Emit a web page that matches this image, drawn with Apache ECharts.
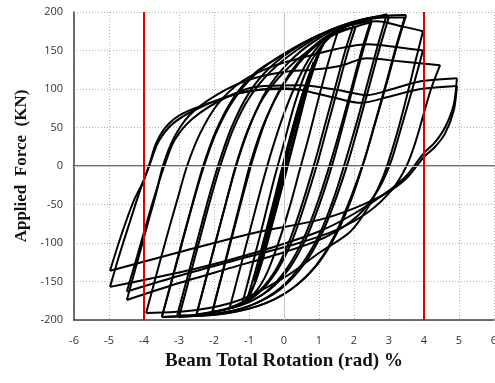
<!DOCTYPE html>
<html>
<head>
<meta charset="utf-8">
<script src="https://cdn.jsdelivr.net/npm/echarts@6/dist/echarts.min.js"></script>
<style>
  html, body { margin: 0; padding: 0; background: #fff; }
  #main { width: 495px; height: 383px; }
</style>
</head>
<body>
<div id="main"></div>
<script>
// x = beam total rotation (%), y = applied force (kN)
var xTicks = [-6, -5, -4, -3, -2, -1, 0, 1, 2, 3, 4, 5, 6]
var yTicks = [-200, -150, -100, -50, 0, 50, 100, 150, 200]
var limitLines = [-4, 4]

// small elastic cycles (dense band through the origin)
var band1 = [[0,0],[0.2,38],[0.4,72],[0.62,105],[0.5,88],[0.28,50],[0.05,8],[-0.2,-38],[-0.4,-75],[-0.62,-112],[-0.5,-92],[-0.27,-48],[-0.05,-8]]
var band2 = [[-0.05,-8],[0.2,38],[0.5,88],[0.85,135],[0.72,117],[0.45,72],[0.15,22],[-0.2,-40],[-0.5,-95],[-0.85,-150],[-0.72,-130],[-0.42,-75],[-0.12,-20]]
var band3 = [[-0.12,-20],[0.2,35],[0.55,92],[0.85,130],[1.08,156],[0.92,140],[0.6,90],[0.25,30],[-0.1,-30],[-0.45,-92],[-0.8,-148],[-1.05,-172],[-0.9,-150],[-0.6,-100],[-0.25,-38]]
var band4 = [[-0.25,-38],[0.1,25],[0.45,82],[0.8,128],[1.2,165],[1.02,148],[0.7,105],[0.4,52],[0.05,-10],[-0.3,-70],[-0.65,-128],[-0.95,-165],[-1.2,-180]]

// growing cycles up to peak strength
var cyc15 = [[-1.2,-180],[-0.9,-128],[-0.6,-75],[-0.3,-20],[0,30],[0.3,80],[0.65,125],[1.0,152],[1.3,167],[1.55,176],
  [1.3,140],[1.0,90],[0.72,40],[0.45,-5],[0.15,-55],[-0.2,-105],[-0.55,-145],[-0.95,-170],[-1.55,-184]]
var cyc20a = [[-1.55,-184],[-1.25,-132],[-0.95,-80],[-0.65,-28],[-0.35,20],[0,68],[0.4,112],[0.8,145],[1.3,170],[2.0,185],
  [1.75,150],[1.45,100],[1.15,50],[0.88,5],[0.55,-45],[0.2,-92],[-0.2,-132],[-0.7,-162],[-1.3,-180],[-2.05,-190]]
var cyc20b = [[-2.05,-190],[-1.78,-142],[-1.5,-92],[-1.22,-42],[-0.95,5],[-0.6,52],[-0.15,95],[0.4,132],[1.0,160],[1.5,174],[2.05,181],
  [1.82,148],[1.52,98],[1.22,48],[0.95,3],[0.62,-46],[0.25,-95],[-0.2,-136],[-0.75,-166],[-1.35,-182],[-2.05,-190]]
var cyc25a = [[-2.05,-190],[-1.75,-138],[-1.45,-86],[-1.15,-34],[-0.85,15],[-0.5,62],[-0.05,105],[0.5,140],[1.1,165],[1.8,182],[2.5,191],
  [2.25,155],[1.95,105],[1.65,55],[1.35,8],[1.0,-42],[0.6,-90],[0.1,-132],[-0.5,-163],[-1.3,-182],[-2.5,-193]]
var cyc25b = [[-2.5,-193],[-2.22,-145],[-1.93,-95],[-1.65,-46],[-1.38,0],[-1.05,45],[-0.6,88],[0.0,122],[0.7,150],[1.5,172],[2.5,187],
  [2.27,152],[1.97,102],[1.68,52],[1.4,5],[1.05,-45],[0.65,-92],[0.15,-133],[-0.45,-162],[-1.25,-181],[-2.5,-193]]
var cyc30a = [[-2.5,-193],[-2.2,-141],[-1.9,-89],[-1.6,-38],[-1.3,10],[-0.95,55],[-0.5,98],[0.1,133],[0.8,160],[1.7,182],[2.94,197],
  [2.7,160],[2.4,110],[2.1,60],[1.78,10],[1.45,-38],[1.05,-85],[0.55,-125],[-0.1,-158],[-0.9,-180],[-1.9,-192],[-3.0,-196]]
var cyc30b = [[-3.0,-196],[-2.7,-145],[-2.4,-94],[-2.1,-43],[-1.8,3],[-1.45,48],[-1.0,88],[-0.4,122],[0.35,150],[1.3,176],[2.3,191],[3.0,194],
  [2.75,156],[2.45,106],[2.15,56],[1.85,8],[1.5,-40],[1.1,-86],[0.6,-126],[-0.1,-160],[-1.0,-182],[-2.0,-192],[-3.05,-194]]
var cyc35a = [[-3.05,-194],[-2.75,-143],[-2.45,-92],[-2.15,-41],[-1.85,5],[-1.5,50],[-1.0,95],[-0.4,128],[0.4,155],[1.4,178],[2.5,193],[3.49,196],
  [3.25,160],[2.95,110],[2.62,58],[2.3,8],[1.95,-40],[1.5,-88],[0.95,-128],[0.2,-160],[-0.7,-181],[-1.9,-193],[-3.49,-196]]
var cyc35b = [[-3.49,-196],[-3.2,-148],[-2.9,-98],[-2.6,-48],[-2.3,-2],[-1.95,42],[-1.45,85],[-0.8,120],[0,146],[1.0,170],[2.0,186],[2.9,193],[3.45,193],
  [3.22,158],[2.92,108],[2.6,56],[2.28,6],[1.9,-42],[1.45,-90],[0.9,-130],[0.15,-162],[-0.75,-182],[-1.95,-193],[-3.49,-196]]

// degrading cycles
var cyc40a = [[-3.49,-196],[-3.2,-147],[-2.9,-96],[-2.6,-46],[-2.31,0],[-1.95,45],[-1.45,88],[-0.8,122],[0.0,145],[0.9,168],[1.9,183],[2.66,188],[3.4,181],[3.97,175],
  [3.75,135],[3.45,80],[3.15,30],[2.85,-12],[2.45,-50],[1.9,-85],[1.03,-112],[0,-145],[-1.26,-174],[-2.5,-187],[-3.94,-191]]
var cyc40b = [[-3.94,-191],[-3.65,-142],[-3.35,-92],[-3.05,-44],[-2.77,0],[-2.4,42],[-1.9,80],[-1.2,110],[-0.3,130],[0.46,140],[1.5,152],[2.4,158],[3.3,154],[3.97,150],
  [3.7,105],[3.35,50],[3.05,5],[2.7,-30],[2.1,-65],[1.2,-92],[0,-112],[-1.5,-132],[-3.0,-152],[-4.49,-174]]
var cyc45 = [[-4.49,-174],[-4.2,-126],[-3.9,-76],[-3.65,-35],[-3.46,0],[-3.15,36],[-2.7,66],[-1.9,93],[-1.0,112],[0,122],[0.8,125],[1.6,130],[2.37,140],[3.3,136],[4.46,131],
  [4.2,100],[4.0,69],[3.75,30],[3.5,0],[3.1,-30],[2.4,-60],[1.4,-85],[0.2,-103],[-1.2,-120],[-2.8,-140],[-4.49,-163]]
var cyc50a = [[-4.49,-163],[-4.2,-118],[-3.9,-70],[-3.65,-32],[-3.42,0],[-3.12,34],[-2.6,62],[-1.7,88],[-0.8,103],[0.46,105],[1.5,99],[2.37,92],[3.1,100],[3.9,110],[4.94,114],
  [4.85,80],[4.6,50],[4.3,30],[4.0,17],[3.51,-12],[3.0,-32],[2.0,-62],[1.0,-85],[-0.86,-113],[-2.5,-133],[-4.97,-157]]
var cyc50b = [[-4.97,-157],[-4.7,-115],[-4.4,-72],[-4.1,-30],[-3.85,0],[-3.58,32],[-3.15,56],[-2.4,76],[-1.3,94],[0.0,101],[0.46,99],[1.5,88],[2.2,82],[3.0,90],[3.9,100],[4.94,104],
  [4.85,72],[4.6,42],[4.3,24],[4.0,12],[3.5,-16],[2.9,-36],[2.0,-55],[1.0,-70],[-0.86,-87],[-3.0,-112],[-4.97,-136]]
var lastReload = [[-4.97,-136],[-4.65,-90],[-4.3,-46],[-4.0,-18],[-3.85,2],[-3.65,30],[-3.35,52],[-2.9,68],[-2.0,84],[-1.06,97],[0,100],[0.5,99]]

var loops = [band1, band2, band3, band4, cyc15, cyc20a, cyc20b, cyc25a, cyc25b, cyc30a, cyc30b,
  cyc35a, cyc35b, cyc40a, cyc40b, cyc45, cyc50a, cyc50b, lastReload]

// cut each loop where the rotation reverses so the peaks stay sharp
function branches(pts) {
  var out = []
  var cur = [pts[0]]
  var dir = 0
  for (var i = 1; i < pts.length; i++) {
    var d = pts[i][0] > pts[i - 1][0] ? 1 : -1
    if (dir !== 0 && d !== dir) {
      out.push(cur)
      cur = [pts[i - 1]]
    }
    cur.push(pts[i])
    dir = d
  }
  out.push(cur)
  return out
}

var myChart = echarts.init(document.getElementById('main'))

var series = []
loops.forEach(function (pts) {
  branches(pts).forEach(function (seg) {
    series.push({
      type: 'line',
      data: seg,
      showSymbol: false,
      symbol: 'none',
      silent: true,
      smooth: 0.3,
      z: 3,
      lineStyle: { color: '#000', width: 2 }
    })
  })
})

// solid zero lines
series.push({
  type: 'line',
  data: [],
  silent: true,
  z: 1,
  markLine: {
    silent: true,
    symbol: 'none',
    label: { show: false },
    lineStyle: { color: '#c8c8c8', width: 1, type: 'solid' },
    data: [{ xAxis: 0 }, { yAxis: 0 }]
  }
})
// red limit lines
series.push({
  type: 'line',
  data: [],
  silent: true,
  z: 5,
  markLine: {
    silent: true,
    symbol: 'none',
    label: { show: false },
    lineStyle: { color: '#e00000', width: 2, type: 'solid' },
    data: limitLines.map(function (v) { return { xAxis: v } })
  }
})

var gridLine = { show: true, lineStyle: { color: '#b4b4b4', width: 1, type: [1, 2] } }

var option = {
  animation: false,
  backgroundColor: '#fff',
  grid: { left: 74, right: 1, top: 12, bottom: 63, outerBoundsMode: 'none', containLabel: false },
  xAxis: [
    {
      type: 'value',
      min: -6,
      max: 6,
      interval: 1,
      name: 'Beam Total Rotation (rad) %',
      nameLocation: 'middle',
      nameGap: 32,
      nameTextStyle: { fontFamily: 'Liberation Serif', fontWeight: 'bold', fontSize: 19, color: '#111' },
      axisLine: { show: true, onZero: false, lineStyle: { color: '#404040', width: 1.5 } },
      axisTick: { show: false },
      axisLabel: { margin: 15, fontFamily: 'Open Sans', fontSize: 11, color: '#333' },
      splitLine: gridLine
    },
    {
      type: 'value',
      position: 'top',
      min: -6,
      max: 6,
      axisLine: { show: true, lineStyle: { color: '#404040', width: 1.5 } },
      axisTick: { show: false },
      axisLabel: { show: false },
      splitLine: { show: false }
    }
  ],
  yAxis: {
    type: 'value',
    min: -200,
    max: 200,
    interval: 50,
    name: 'Applied  Force  (KN)',
    nameLocation: 'middle',
    nameGap: 43,
    nameTextStyle: { fontFamily: 'Liberation Serif', fontWeight: 'bold', fontSize: 17, color: '#111' },
    axisLine: { show: true, onZero: false, lineStyle: { color: '#404040', width: 1.5 } },
    axisTick: { show: false },
    axisLabel: { margin: 11, fontFamily: 'Open Sans', fontSize: 11, color: '#333' },
    splitLine: gridLine
  },
  series: series
}

myChart.setOption(option)
</script>
</body>
</html>
